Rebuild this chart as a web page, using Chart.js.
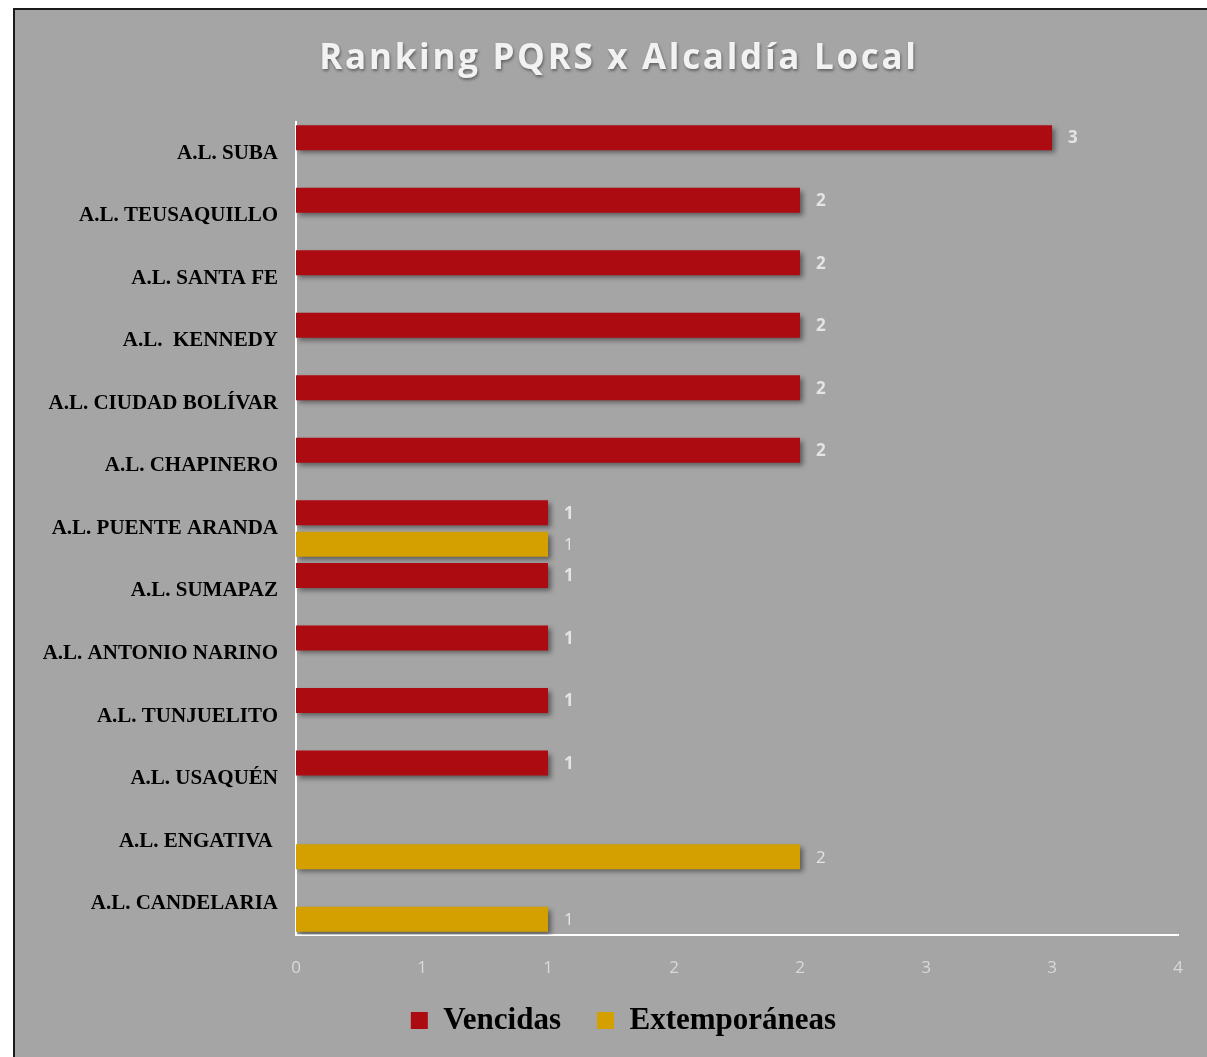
<!DOCTYPE html>
<html>
<head>
<meta charset="utf-8">
<script src="https://cdn.jsdelivr.net/npm/chart.js@4"></script>
<style>
  body { margin: 0; background: #fff; overflow: hidden; }
  #box {
    position: absolute; left: 13px; top: 8px;
    width: 1192px; height: 1047px;
    background: #a5a5a5;
    border-left: 2px solid #1a1a1a; border-top: 2px solid #1a1a1a;
  }
  #wrap { position: relative; width: 1192px; height: 1047px; }
</style>
</head>
<body>
<div id="box"><div id="wrap"><canvas id="rankingChart"></canvas></div></div>
<script>
const chartTitle = 'Ranking PQRS x Alcaldía Local';
const categories = [
    'A.L. SUBA', 'A.L. TEUSAQUILLO', 'A.L. SANTA FE', 'A.L.  KENNEDY',
    'A.L. CIUDAD BOLÍVAR', 'A.L. CHAPINERO', 'A.L. PUENTE ARANDA', 'A.L. SUMAPAZ',
    'A.L. ANTONIO NARINO', 'A.L. TUNJUELITO', 'A.L. USAQUÉN', 'A.L. ENGATIVA ', 'A.L. CANDELARIA'
];
const vencidas = [3, 2, 2, 2, 2, 2, 1, 1, 1, 1, 1, null, null];
const extemporaneas = [null, null, null, null, null, null, 1, null, null, null, null, 2, 1];
const xTickLabels = ['0', '1', '1', '2', '2', '3', '3', '4'];

// sombra de las barras + etiquetas de valor
const barExtras = {
    id: 'barExtras',
    beforeDatasetsDraw(chart) {
        const ctx = chart.ctx;
        ctx.save();
        ctx.shadowColor = 'rgba(0,0,0,0.45)';
        ctx.shadowBlur = 5;
        ctx.shadowOffsetX = 3;
        ctx.shadowOffsetY = 3;
    },
    afterDatasetsDraw(chart) {
        const ctx = chart.ctx;
        ctx.restore();
        ctx.save();
        ctx.fillStyle = '#e4e4e4';
        ctx.textAlign = 'left';
        ctx.textBaseline = 'middle';
        chart.data.datasets.forEach((ds, i) => {
            const meta = chart.getDatasetMeta(i);
            ctx.font = (i === 0 ? 'bold ' : '') + '17px "Open Sans"';
            meta.data.forEach((bar, j) => {
                if (ds.data[j] == null) return;
                ctx.fillText(String(ds.data[j]), bar.x + 16, bar.y + 1);
            });
        });
        ctx.restore();
    }
};

const titlePlugin = {
    id: 'shadowTitle',
    afterDraw(chart) {
        const ctx = chart.ctx;
        ctx.save();
        ctx.font = 'bold 35px "Open Sans"';
        ctx.letterSpacing = '2.7px';
        ctx.fillStyle = '#f2f2f2';
        ctx.textAlign = 'center';
        ctx.textBaseline = 'middle';
        ctx.shadowColor = 'rgba(0,0,0,0.4)';
        ctx.shadowBlur = 3;
        ctx.shadowOffsetX = 1;
        ctx.shadowOffsetY = 2;
        ctx.fillText(chartTitle, 604, 49);
        ctx.restore();
    }
};

// mueve la leyenda un poco a la derecha y hacia arriba
const legendShift = {
    id: 'legendShift',
    afterLayout(chart) {
        const lg = chart.legend;
        lg.left += 27; lg.right += 27;
        lg.top -= 11; lg.bottom -= 11;
    }
};

new Chart(document.getElementById('rankingChart'), {
    type: 'bar',
    data: {
        labels: categories,
        datasets: [{
            label: 'Vencidas',
            data: vencidas,
            backgroundColor: '#ad0b12',
            categoryPercentage: 1,
            barPercentage: 0.8
        }, {
            label: 'Extemporáneas',
            data: extemporaneas,
            backgroundColor: '#d4a000',
            categoryPercentage: 1,
            barPercentage: 0.8
        }]
    },
    options: {
        indexAxis: 'y',
        responsive: true,
        maintainAspectRatio: false,
        animation: false,
        layout: { padding: { top: 112, right: 29, left: 0, bottom: 0 } },
        plugins: {
            title: { display: false },
            tooltip: { enabled: false },
            legend: {
                position: 'bottom',
                labels: {
                    color: '#000',
                    font: { family: 'Liberation Serif', weight: 'bold', size: 31 },
                    boxWidth: 17,
                    boxHeight: 17,
                    padding: 36
                }
            }
        },
        scales: {
            x: {
                min: 0,
                max: 3.5,
                ticks: {
                    stepSize: 0.5,
                    color: '#d9d9d9',
                    font: { family: 'Open Sans', size: 17 },
                    padding: 15,
                    callback: (v, i) => xTickLabels[i]
                },
                grid: { display: false },
                border: { display: true, color: '#ffffff', width: 2 },
                afterFit: s => { s.height = 45; }
            },
            y: {
                ticks: {
                    color: '#000',
                    font: { family: 'Liberation Serif', weight: 'bold', size: 21 },
                    padding: 10
                },
                grid: { display: false },
                border: { display: true, color: '#ffffff', width: 2 },
                afterFit: s => { s.width = 281; }
            }
        }
    },
    plugins: [barExtras, titlePlugin, legendShift]
});
</script>
</body>
</html>
